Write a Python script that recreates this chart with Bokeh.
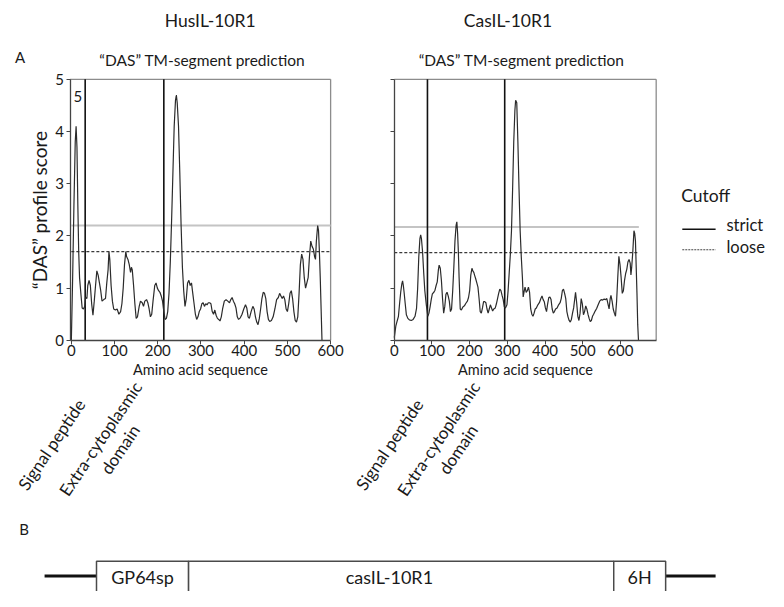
from bokeh.plotting import figure
from bokeh.models import Range1d, Label, FixedTicker, CustomJSTickFormatter, LinearAxis
from bokeh.layouts import column, row
from bokeh.embed import file_html
from bokeh.resources import INLINE
from bokeh.core.properties import value

FONT = "Lato"
INK = "#1a1a1a"

# ---------------- data ----------------
hus_pos = [0, 3, 6, 9, 11, 13, 15, 17, 19, 22, 25, 28, 31, 33, 36, 38, 41, 44, 47, 50,
           53, 56, 59, 62, 65, 68, 71, 75, 79, 82, 85, 87, 89, 92, 95, 98, 102, 106, 110, 114,
           117, 120, 123, 126, 128, 131, 134, 137, 139, 141, 144, 147, 150, 153, 157, 160, 164, 167, 170, 174,
           177, 180, 183, 186, 189, 193, 196, 199, 202, 205, 208, 211, 214, 217, 220, 223, 226, 229, 232, 235,
           238, 241, 243, 245, 248, 251, 254, 257, 260, 263, 266, 269, 272, 275, 278, 281, 284, 287, 290, 293,
           296, 299, 302, 305, 308, 311, 314, 317, 320, 323, 326, 329, 332, 335, 338, 341, 344, 347, 350, 354,
           358, 362, 366, 369, 372, 375, 378, 381, 384, 387, 391, 395, 399, 403, 406, 409, 412, 416, 420, 423,
           426, 429, 432, 435, 438, 441, 444, 447, 450, 453, 456, 459, 463, 467, 471, 475, 479, 482, 485, 488,
           491, 494, 497, 500, 503, 506, 509, 512, 515, 518, 521, 524, 527, 530, 533, 536, 539, 542, 545, 548,
           551, 554, 557, 560, 563, 565, 567, 570, 572, 574, 576, 578, 580]
hus_score = [0.0, 1.2, 2.6, 3.8, 4.1, 3.7, 2.6, 1.7, 1.2, 0.9, 0.62, 0.6, 0.65, 0.82, 0.8, 1.05, 1.15, 1.05, 0.7, 0.48,
             0.75, 1.05, 1.33, 1.25, 1.1, 0.95, 0.75, 0.78, 0.8, 1.1, 1.35, 1.7, 1.55, 1.05, 0.75, 0.6, 0.58, 0.6, 0.5, 0.55,
             0.7, 1.0, 1.45, 1.7, 1.6, 1.55, 1.45, 1.3, 1.4, 1.35, 1.05, 0.7, 0.42, 0.45, 0.65, 0.75, 0.72, 0.65, 0.75, 0.78,
             0.72, 0.6, 0.45, 0.5, 0.75, 1.05, 1.1, 1.0, 0.95, 0.92, 0.85, 0.75, 0.55, 0.4, 0.42, 0.55, 0.9, 1.5, 2.3, 3.2,
             4.1, 4.6, 4.7, 4.55, 4.1, 3.2, 2.2, 1.4, 0.95, 0.65, 0.8, 1.1, 1.15, 1.05, 1.1, 0.9, 0.7, 0.5, 0.4, 0.45,
             0.55, 0.6, 0.7, 0.72, 0.65, 0.7, 0.68, 0.72, 0.72, 0.7, 0.55, 0.5, 0.58, 0.48, 0.42, 0.4, 0.37, 0.45, 0.6, 0.75,
             0.78, 0.75, 0.72, 0.78, 0.82, 0.75, 0.7, 0.62, 0.45, 0.4, 0.43, 0.5, 0.6, 0.68, 0.62, 0.45, 0.42, 0.55, 0.65, 0.6,
             0.45, 0.35, 0.3, 0.42, 0.6, 0.8, 0.92, 0.9, 0.8, 0.55, 0.4, 0.36, 0.38, 0.45, 0.6, 0.78, 0.82, 0.9, 0.85, 0.8,
             0.85, 0.78, 0.6, 0.55, 0.7, 0.9, 0.95, 0.8, 0.55, 0.38, 0.35, 0.45, 0.9, 1.45, 1.65, 1.55, 1.2, 1.0, 1.1, 1.2,
             1.6, 1.9, 1.8, 1.75, 1.6, 1.55, 1.9, 2.2, 2.1, 1.7, 1.2, 0.6, 0.0]

cas_pos = [0, 4, 8, 11, 14, 17, 20, 22, 24, 26, 29, 32, 36, 40, 45, 50, 55, 59, 62, 65,
           68, 70, 72, 75, 78, 81, 85, 89, 92, 95, 98, 101, 105, 108, 111, 114, 117, 119, 122, 125,
           128, 131, 134, 137, 140, 143, 146, 149, 152, 155, 158, 161, 164, 166, 168, 170, 172, 175, 178, 182,
           186, 190, 194, 197, 200, 203, 206, 209, 211, 213, 216, 219, 222, 225, 228, 231, 234, 237, 240, 243,
           246, 249, 252, 255, 258, 261, 264, 268, 271, 274, 277, 280, 283, 286, 289, 292, 295, 299, 302, 305,
           308, 311, 314, 317, 320, 322, 325, 328, 331, 334, 337, 340, 342, 345, 347, 350, 353, 356, 359, 362,
           365, 368, 371, 374, 377, 381, 385, 389, 392, 395, 398, 401, 404, 407, 410, 413, 416, 419, 422, 425,
           428, 432, 436, 440, 443, 446, 449, 452, 455, 458, 461, 464, 467, 470, 473, 476, 479, 481, 484, 487,
           490, 493, 496, 499, 502, 505, 508, 511, 514, 517, 520, 523, 526, 529, 533, 537, 541, 545, 549, 553,
           557, 561, 564, 567, 570, 573, 575, 578, 581, 584, 587, 590, 593, 596, 599, 602, 605, 608, 611, 614,
           617, 620, 623, 626, 628, 630, 633, 636, 638, 640, 642, 644, 646, 648]
cas_score = [0.05, 0.27, 0.38, 0.46, 0.7, 0.92, 1.08, 1.14, 1.05, 0.92, 0.7, 0.49, 0.42, 0.39, 0.38, 0.4, 0.46, 0.61, 1.0, 1.6,
             1.95, 2.02, 1.95, 1.7, 1.3, 0.95, 0.68, 0.46, 0.52, 0.64, 0.78, 0.89, 0.92, 0.96, 1.05, 1.12, 1.35, 1.44, 1.38, 1.15,
             0.8, 0.52, 0.65, 0.88, 0.92, 0.85, 0.75, 0.55, 0.6, 0.95, 1.4, 1.9, 2.2, 2.27, 2.05, 1.7, 1.2, 0.6, 0.58, 0.64,
             0.66, 0.71, 0.75, 0.82, 0.95, 1.25, 1.38, 1.32, 1.3, 1.25, 1.18, 1.1, 1.02, 0.8, 0.55, 0.52, 0.62, 0.74, 0.74, 0.72,
             0.6, 0.52, 0.6, 0.68, 0.62, 0.56, 0.6, 0.62, 0.7, 0.8, 0.9, 0.98, 0.95, 0.86, 0.78, 0.64, 0.62, 0.68, 0.95, 1.3,
             1.65, 2.1, 2.9, 3.8, 4.4, 4.6, 4.55, 3.8, 2.9, 2.1, 1.6, 1.2, 0.83, 0.95, 1.02, 0.92, 0.95, 1.02, 0.92, 0.6,
             0.5, 0.46, 0.52, 0.6, 0.62, 0.68, 0.72, 0.8, 0.85, 0.78, 0.74, 0.62, 0.55, 0.7, 0.82, 0.83, 0.78, 0.6, 0.52, 0.55,
             0.6, 0.62, 0.68, 0.72, 0.8, 0.95, 0.98, 0.9, 0.8, 0.55, 0.45, 0.38, 0.35, 0.4, 0.52, 0.62, 0.8, 0.92, 0.72, 0.46,
             0.38, 0.52, 0.8, 0.7, 0.49, 0.55, 0.66, 0.6, 0.5, 0.42, 0.36, 0.38, 0.46, 0.5, 0.56, 0.61, 0.68, 0.75, 0.78, 0.77,
             0.79, 0.78, 0.8, 0.7, 0.6, 0.8, 0.86, 0.75, 0.6, 0.52, 0.46, 0.75, 1.2, 1.61, 1.45, 1.2, 0.9, 0.95, 1.15, 1.28,
             1.36, 1.5, 1.55, 1.48, 1.25, 1.4, 1.7, 2.1, 2.05, 1.9, 1.4, 0.9, 0.3, 0.0]

hus_domain_bounds = [32, 214]
cas_domain_bounds = [88, 293]
hus_cutoffs = {"strict": 2.2, "loose": 1.7}
cas_cutoffs = {"strict": 2.17, "loose": 1.68}
hus_cutoff_span = [0, 600]
cas_cutoff_span = [0, 649]
hus_axis_span = [-3, 600]
cas_axis_span = [0, 695]
x_ticks = [0, 100, 200, 300, 400, 500, 600]
y_ticks = [0, 1, 2, 3, 4, 5]
score_span = [0, 5]
cutoff_labels = ["strict", "loose"]
construct_parts = ["GP64sp", "casIL-10R1", "6H"]
construct_start = [98, 192, 626]   # schematic units
construct_end = [192, 626, 679]
flank_start = [45, 679]
flank_end = [98, 730]

# ---------------- page geometry ----------------
# reference-picture pixels are mapped onto a 768 x 591 page
KX = 768 / 784
KY = 591 / 607
W_LEFT, W_RIGHT, W_LEG = 352, 318, 98
ROW_H = 514
B_H = 591 - ROW_H
REF_ROW_BOTTOM = ROW_H / KY
REF_X1 = W_LEFT / KX
REF_X2 = REF_X1 + W_RIGHT / KX


def lin(a, pa, b, pb):
    return lambda px: a + (px - pa) * (b - a) / (pb - pa)


def base_fig(w, h, xr, yr):
    p = figure(width=w, height=h, x_range=Range1d(*xr), y_range=Range1d(*yr),
               output_backend="svg", toolbar_location=None,
               x_axis_type=None, y_axis_type=None, min_border=0)
    p.min_border_left = p.min_border_right = p.min_border_top = p.min_border_bottom = 0
    p.grid.visible = False
    p.outline_line_color = None
    if p.title is not None:
        p.title.visible = False
    return p


def profile_panel(pos, score, bounds, cutoffs, span, axis_span, fx, fy, ref_x0, ref_x1,
                  width, show_labels, labels_px):
    p = base_fig(width, ROW_H, (fx(ref_x0), fx(ref_x1)), (fy(REF_ROW_BOTTOM), fy(0)))

    # frame (top and right sides)
    p.line(axis_span, [score_span[1]] * 2, line_color="#8c8c8c", line_width=1.3)
    p.line([axis_span[1]] * 2, score_span, line_color="#8c8c8c", line_width=1.3)
    # cutoffs
    p.line(span, [cutoffs["strict"]] * 2, line_color="#c4c4c4", line_width=1.9)
    p.line(span, [cutoffs["loose"]] * 2, line_color="#3a3a3a", line_width=1.3, line_dash="3 2")
    # domain boundaries
    p.segment(x0=bounds, y0=[score_span[0]] * len(bounds), x1=bounds,
              y1=[score_span[1]] * len(bounds), line_color="#111111", line_width=1.6)
    # profile
    p.line(pos, score, line_color="#2b2b2b", line_width=1.2)

    xa = LinearAxis(fixed_location=score_span[0], bounds=tuple(axis_span))
    xa.ticker = FixedTicker(ticks=x_ticks)
    xa.minor_tick_line_color = None
    xa.major_tick_in = 0
    xa.major_tick_out = 4
    xa.major_label_standoff = 1
    xa.major_label_text_font = FONT
    xa.major_label_text_font_size = "15px"
    xa.major_label_text_color = INK
    xa.axis_line_color = "#444444"
    xa.axis_line_width = 1.3
    xa.major_tick_line_color = "#444444"
    xa.axis_label = "Amino acid sequence"
    xa.axis_label_text_font = FONT
    xa.axis_label_text_font_size = "14.5px"
    xa.axis_label_text_font_style = "normal"
    xa.axis_label_text_color = INK
    xa.axis_label_standoff = 1
    p.add_layout(xa, "below")

    ya = LinearAxis(fixed_location=axis_span[0], bounds=tuple(score_span))
    ya.ticker = FixedTicker(ticks=y_ticks)
    ya.minor_tick_line_color = None
    ya.major_tick_in = 0
    ya.major_tick_out = 4
    ya.major_label_standoff = 2
    ya.major_label_text_font = FONT
    ya.major_label_text_font_size = "15px"
    ya.major_label_text_color = INK
    ya.axis_line_color = "#444444"
    ya.axis_line_width = 1.3
    ya.major_tick_line_color = "#444444"
    if show_labels:
        ya.axis_label = "\u201cDAS\u201d profile score"
        ya.axis_label_text_font = FONT
        ya.axis_label_text_font_size = "19px"
        ya.axis_label_text_font_style = "normal"
        ya.axis_label_text_color = INK
        ya.axis_label_standoff = 2
    else:
        ya.formatter = CustomJSTickFormatter(code="return ''")
    p.add_layout(ya, "left")

    for text, (px, py), size, ang in labels_px:
        p.add_layout(Label(x=fx(px), y=fy(py), text=text, text_font=FONT,
                           text_font_size=size, text_color=INK, text_align="center",
                           text_baseline="middle", angle=ang, angle_units="deg"))
    return p


left_labels = [
    ("HusIL-10R1", (214, 21), "17.5px", 0),
    ("A", (20, 58), "15px", 0),
    ("\u201cDAS\u201d TM-segment prediction", (206, 61), "15.5px", 0),
    ("5", (79, 99), "15px", 0),
    ("Signal peptide", (52, 456), "17px", 56),
    ("Extra-cytoplasmic", (102, 450), "17px", 56),
    ("domain", (122, 461), "17px", 56),
]
right_labels = [
    ("CasIL-10R1", (518, 21), "17.5px", 0),
    ("\u201cDAS\u201d TM-segment prediction", (532, 61), "15.5px", 0),
    ("Signal peptide", (397, 456), "17px", 56),
    ("Extra-cytoplasmic", (447, 450), "17px", 56),
    ("domain", (467, 461), "17px", 56),
]

fy_all = lin(5, 81, 0, 349)
p_left = profile_panel(hus_pos, hus_score, hus_domain_bounds, hus_cutoffs, hus_cutoff_span,
                       hus_axis_span, lin(-3, 71, 600, 337), fy_all, 0, REF_X1,
                       W_LEFT, True, left_labels)
p_right = profile_panel(cas_pos, cas_score, cas_domain_bounds, cas_cutoffs, cas_cutoff_span,
                        cas_axis_span, lin(0, 402, 600, 632.8), fy_all, REF_X1, REF_X2,
                        W_RIGHT, False, right_labels)

# ---------------- legend ----------------
p_leg = base_fig(W_LEG, ROW_H, (REF_X2, 784), (REF_ROW_BOTTOM, 0))
p_leg.text(x=[695], y=[200], text=["Cutoff"], text_font=value(FONT), text_font_size="17.5px",
           text_color=INK, text_baseline="middle")
p_leg.line([696, 730], [235, 235], line_color="#111111", line_width=1.6)
p_leg.line([696, 730], [256, 256], line_color="#444444", line_width=1.0, line_dash="2 1")
p_leg.text(x=[741, 741], y=[231, 253], text=cutoff_labels, text_font=value(FONT),
           text_font_size="16.5px", text_color=INK, text_baseline="middle")

# ---------------- panel B ----------------
p_b = base_fig(768, B_H, (0, 784), (607, REF_ROW_BOTTOM))
p_b.text(x=[24], y=[543], text=["B"], text_font=value(FONT), text_font_size="15px",
         text_color=INK, text_align="center", text_baseline="middle")
p_b.segment(x0=flank_start, y0=[591, 591], x1=flank_end, y1=[591, 591],
            line_color="#111111", line_width=3)
p_b.quad(left=construct_start, right=construct_end, top=[576] * 3, bottom=[640] * 3,
         fill_color="white", line_color="#4a4a4a", line_width=1.5)
centers = [(a + b) / 2 for a, b in zip(construct_start, construct_end)]
centers[1] -= 12
p_b.text(x=centers, y=[592] * 3, text=construct_parts, text_font=value(FONT),
         text_font_size="18px", text_color=INK, text_align="center", text_baseline="middle")

layout = column(row(p_left, p_right, p_leg, spacing=0), p_b, spacing=0)
open("out.html", "w").write(file_html(layout, INLINE))
